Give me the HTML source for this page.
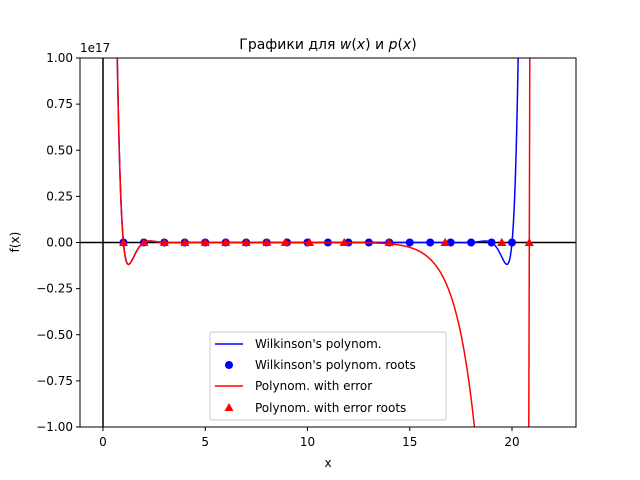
<!DOCTYPE html>
<html><head><meta charset="utf-8"><style>
html,body{margin:0;padding:0;background:#fff;overflow:hidden;width:640px;height:480px}
svg{display:block}
svg text{font-family:"DejaVu Sans","Liberation Sans",sans-serif;fill:#000}
</style></head><body>
<svg width="640" height="480" viewBox="0 0 640 480" xmlns="http://www.w3.org/2000/svg">
<defs><clipPath id="ax"><rect x="80" y="58" width="496" height="369"/></clipPath></defs>
<rect x="0" y="0" width="640" height="480" fill="#fff"/>
<g id="plot" clip-path="url(#ax)"></g>
<rect x="80" y="58" width="496" height="369" fill="none" stroke="#000" stroke-width="1"/>
<g id="ticks"></g>
<text x="80" y="52" font-size="12">1e17</text>
<text x="328" y="49" font-size="14" text-anchor="middle">Графики для <tspan font-style="italic">w</tspan>(<tspan font-style="italic">x</tspan>) и <tspan font-style="italic">p</tspan>(<tspan font-style="italic">x</tspan>)</text>
<text x="328" y="467" font-size="12" text-anchor="middle">x</text>
<text x="19" y="242" font-size="12" text-anchor="middle" transform="rotate(-90 19 242)">f(x)</text>
<g>
<rect x="210" y="332" width="236" height="88" rx="2" fill="#fff" fill-opacity="0.8" stroke="#ccc"/>
<line x1="215" y1="344" x2="243" y2="344" stroke="#0000ff" stroke-width="1.5"/>
<text x="255" y="348" font-size="12">Wilkinson's polynom.</text>
<circle cx="229" cy="365" r="4" fill="#0000ff"/>
<text x="255" y="369" font-size="12">Wilkinson's polynom. roots</text>
<line x1="215" y1="386" x2="243" y2="386" stroke="#ff0000" stroke-width="1.5"/>
<text x="255" y="390" font-size="12">Polynom. with error</text>
<polygon points="229,403 233.5,411 224.5,411" fill="#ff0000"/>
<text x="255" y="412" font-size="12">Polynom. with error roots</text>
</g>
</svg>
<script>
const blueRoots=[1,2,3,4,5,6,7,8,9,10,11,12,13,14,15,16,17,18,19,20];
const redRealRoots=[1,2,3,4,5,6,6.9997,8.00727,8.91725,20.84691];
const redComplexRe=[10.09527,11.79363,13.99236,16.73074,19.50244];
const redComplexIm=[0.6435,1.65233,2.51883,2.81262,1.94033];
const xTicks=[0,5,10,15,20];
const yTicks=[-1,-0.75,-0.5,-0.25,0,0.25,0.5,0.75,1];
const yTickLabels=["−1.00","−0.75","−0.50","−0.25","0.00","0.25","0.50","0.75","1.00"];
const NS="http://www.w3.org/2000/svg";
const X0=-1.125,X1=23.13,Y0=-1,Y1=1;
const sx=v=>80+(v-X0)/(X1-X0)*496;
const sy=v=>427-(v-Y0)/(Y1-Y0)*369;
function mk(t,a,p){const e=document.createElementNS(NS,t);for(const k in a)e.setAttribute(k,a[k]);p.appendChild(e);return e;}
const plot=document.getElementById('plot'),ticks=document.getElementById('ticks');
function wv(x){let p=1;for(const r of blueRoots)p*=(x-r);return p/1e17;}
function pv(x){let p=1;for(const r of redRealRoots)p*=(x-r);for(let i=0;i<redComplexRe.length;i++){const d=x-redComplexRe[i];p*=d*d+redComplexIm[i]*redComplexIm[i];}return p/1e17;}
function curve(f,c,name){let pts=[];for(let x=0.6;x<=21.5;x+=0.004){let y=Math.max(-1.2,Math.min(1.2,f(x)));pts.push(sx(x).toFixed(2)+','+sy(y).toFixed(2));}
const e=mk('polyline',{points:pts.join(' '),fill:'none',stroke:c,'stroke-width':1.5},plot);

}
const ax1=mk('line',{x1:80,x2:576,y1:sy(0),y2:sy(0),stroke:'#000','stroke-width':1.5},plot);


const ax2=mk('line',{x1:sx(0),x2:sx(0),y1:58,y2:427,stroke:'#000','stroke-width':1.5},plot);


curve(wv,'#0000ff','wilkinson-curve');
blueRoots.forEach(r=>{const c=mk('circle',{cx:sx(r),cy:sy(0),r:4,fill:'#0000ff'},plot);

});
curve(pv,'#ff0000','error-poly-curve');
const redMarks=redRealRoots.concat(redComplexRe,redComplexRe);
redMarks.forEach(r=>{const x=sx(r),y=sy(0);const t=mk('polygon',{points:`${x},${y-4.5} ${x+4.5},${y+3.5} ${x-4.5},${y+3.5}`,fill:'#ff0000'},plot);

});
xTicks.forEach(v=>{const x=sx(v);mk('line',{x1:x,x2:x,y1:427,y2:431,stroke:'#000'},ticks);
const t=mk('text',{x:x,y:446,'font-size':12,'text-anchor':'middle'},ticks);t.textContent=v;

});
yTicks.forEach((v,i)=>{const y=sy(v);mk('line',{x1:76,x2:80,y1:y,y2:y,stroke:'#000'},ticks);
const t=mk('text',{x:73,y:y+4,'font-size':12,'text-anchor':'end'},ticks);t.textContent=yTickLabels[i];

});
</script>
</body></html>
